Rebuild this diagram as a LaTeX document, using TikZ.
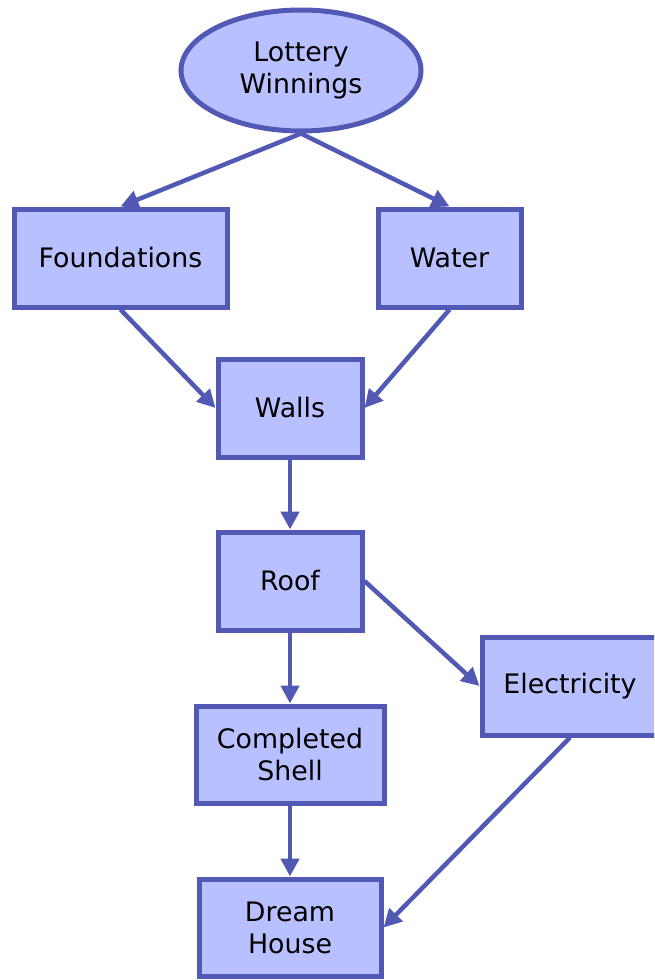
\documentclass[tikz,border=0pt]{standalone}
\usepackage{fontspec}
\setmainfont{DejaVu Sans}
\usetikzlibrary{shapes.geometric,arrows.meta}
\definecolor{boxfill}{HTML}{B8C0FF}
\definecolor{boxline}{HTML}{5159B5}
\tikzset{
  stepbox/.style={draw=boxline, fill=boxfill, line width=5pt, rectangle, inner sep=0pt,
    align=center, font=\fontsize{26.8}{32}\selectfont},
  startnode/.style={draw=boxline, fill=boxfill, line width=5pt, ellipse, inner sep=0pt,
    align=center, font=\fontsize{26.8}{32}\selectfont, minimum width=240pt, minimum height=121pt},
  conn/.style={draw=boxline, line width=4.5pt, -{Triangle[length=18pt,width=18pt]}}
}
\begin{document}
\begin{tikzpicture}[x=1pt,y=-1pt]
\useasboundingbox (0,0) rectangle (654,980);
\clip (0,0) rectangle (654,980);
\node[startnode] (lot) at (301,70.5) {Lottery\\Winnings};
\node[stepbox, minimum width=213pt, minimum height=98pt] (fou) at (120.5,258) {Foundations};
\node[stepbox, minimum width=143pt, minimum height=98pt] (wat) at (449.5,258) {Water};
\node[stepbox, minimum width=144pt, minimum height=98pt] (wal) at (290,408) {Walls};
\node[stepbox, minimum width=144pt, minimum height=98pt] (roo) at (290,581) {Roof};
\node[stepbox, minimum width=176pt, minimum height=98pt] (ele) at (570,686) {Electricity};
\node[stepbox, minimum width=188pt, minimum height=97pt] (com) at (290,754.5) {Completed\\Shell};
\node[stepbox, minimum width=182pt, minimum height=97pt] (dre) at (290,927.5) {Dream\\House};
\draw[conn] (lot.south) -- (fou.north);
\draw[conn] (lot.south) -- (wat.north);
\draw[conn] (fou.south) -- (wal.west);
\draw[conn] (wat.south) -- (wal.east);
\draw[conn] (wal.south) -- (roo.north);
\draw[conn] (roo.east) -- (ele.west);
\draw[conn] (roo.south) -- (com.north);
\draw[conn] (com.south) -- (dre.north);
\draw[conn] (ele.south) -- (dre.east);
\end{tikzpicture}
\end{document}
